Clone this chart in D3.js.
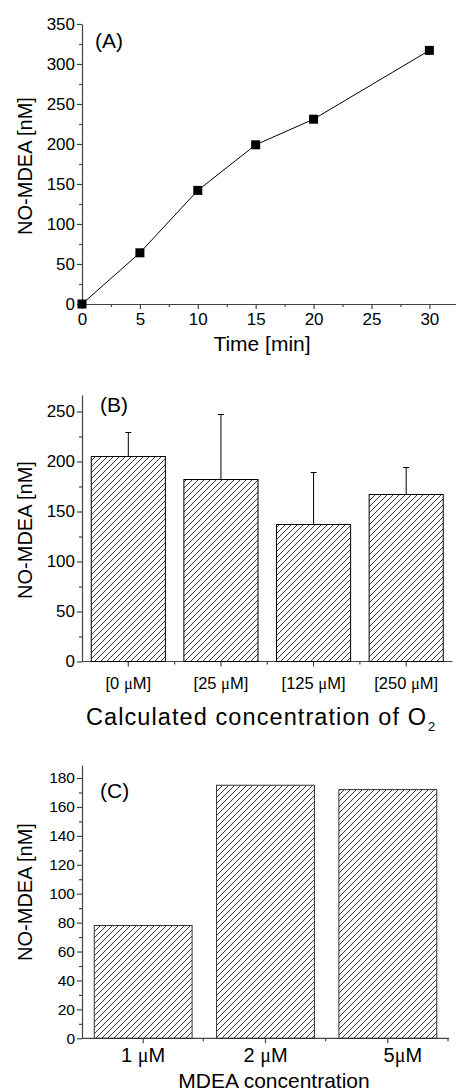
<!DOCTYPE html>
<html>
<head>
<meta charset="utf-8">
<script src="https://cdn.jsdelivr.net/npm/d3@7"></script>
<style>
  body { margin: 0; background: #fff; }
  svg { display: block; font-family: "Liberation Sans", Arial, sans-serif; }
  .axis path, .axis line { stroke: #444; stroke-width: 1.2; }
  .axis text { fill: #000; }
</style>
</head>
<body>
<svg id="chart" width="456" height="1091"></svg>
<script>
// panel A: time course
const timeMin = [0, 5, 10, 15, 20, 30];
const noMdeaA = [0, 64, 142, 199, 231, 317];

// panel B: oxygen
const o2Categories = ["[0 μM]", "[25 μM]", "[125 μM]", "[250 μM]"];
const noMdeaB = [205, 182, 137, 167];
const errB = [24, 65, 52, 27];

// panel C: MDEA concentration
const mdeaCategories = ["1 μM", "2 μM", "5μM"];
const noMdeaC = [78, 175, 172];

const svg = d3.select("#chart");

// hatch pattern "/"
svg.append("defs").append("pattern")
    .attr("id", "hatch")
    .attr("patternUnits", "userSpaceOnUse")
    .attr("width", 6)
    .attr("height", 6)
    .append("path")
    .attr("d", "M0,6 L6,0 M-1,1 L1,-1 M5,7 L7,5")
    .attr("stroke", "#222")
    .attr("stroke-width", 0.9);

const axisX0 = 82;

function yLabel(cy) {
    svg.append("text")
        .attr("transform", `translate(32,${cy}) rotate(-90)`)
        .attr("text-anchor", "middle")
        .style("font-size", "20px")
        .text("NO-MDEA [nM]");
}

// split "μ" into a serif tspan
function muText(sel, label) {
    const parts = label.split("μ");
    sel.text(null);
    sel.append("tspan").text(parts[0]);
    sel.append("tspan").style("font-family", "'Liberation Serif', 'Times New Roman', serif").text("μ");
    sel.append("tspan").text(parts[1]);
}

function drawYAxis(y, major, minor, fontSize) {
    svg.append("g")
        .attr("class", "axis")
        .attr("transform", `translate(${axisX0},0)`)
        .call(d3.axisLeft(y).tickValues(minor).tickSize(3).tickFormat(""))
        .call(g => g.select(".domain").remove());
    svg.append("g")
        .attr("class", "axis")
        .attr("transform", `translate(${axisX0},0)`)
        .call(d3.axisLeft(y).tickValues(major).tickSize(5).tickSizeOuter(0).tickPadding(2))
        .call(g => g.selectAll("text").style("font-size", fontSize));
}

// ---------- Panel A ----------
const xA = d3.scaleLinear().domain([0, 32.3]).range([axisX0, 456]);
const yA = d3.scaleLinear().domain([0, 350]).range([304, 24]);

drawYAxis(yA, d3.range(0, 351, 50), d3.range(25, 351, 50), "17px");

svg.append("g")
    .attr("class", "axis")
    .attr("transform", "translate(0,304)")
    .call(d3.axisBottom(xA).tickValues(d3.range(2.5, 32, 5)).tickSize(3).tickFormat(""))
    .call(g => g.select(".domain").remove());
svg.append("g")
    .attr("class", "axis")
    .attr("transform", "translate(0,304)")
    .call(d3.axisBottom(xA).tickValues(d3.range(0, 31, 5)).tickSize(5).tickSizeOuter(0).tickPadding(4))
    .call(g => g.selectAll("text").style("font-size", "17px"));

const lineA = d3.line().x((d, i) => xA(timeMin[i])).y(d => yA(d));
svg.append("path")
    .datum(noMdeaA)
    .attr("d", lineA)
    .attr("fill", "none")
    .attr("stroke", "#000")
    .attr("stroke-width", 1);

svg.selectAll(".ptA")
    .data(noMdeaA)
    .enter()
    .append("rect")
    .attr("class", "ptA")
    .attr("x", (d, i) => xA(timeMin[i]) - 4.5)
    .attr("y", d => yA(d) - 4.5)
    .attr("width", 9)
    .attr("height", 9)
    .attr("fill", "#000");

svg.append("text").attr("x", 95).attr("y", 48).style("font-size", "21px").text("(A)");
yLabel(166);
svg.append("text").attr("x", 262).attr("y", 351).attr("text-anchor", "middle")
    .style("font-size", "21px").text("Time [min]");

// ---------- Panel B ----------
const xB = d3.scaleBand().domain(o2Categories).range([axisX0, 452.5]).paddingInner(0.2).paddingOuter(0.1);
const yB = d3.scaleLinear().domain([0, 266.5]).range([661.5, 395]);

drawYAxis(yB, d3.range(0, 251, 50), d3.range(25, 266, 50), "17px");

// x axis B: major at centers, minor between
const stepB = xB.step();
const bottomB = svg.append("g").attr("class", "axis");
bottomB.append("line")
    .attr("x1", axisX0).attr("x2", 452.5)
    .attr("y1", yB(0)).attr("y2", yB(0));
bottomB.selectAll(".minor")
    .data(o2Categories.slice(1))
    .enter().append("line")
    .attr("x1", d => xB(d) - stepB * 0.1).attr("x2", d => xB(d) - stepB * 0.1)
    .attr("y1", yB(0)).attr("y2", yB(0) + 3);
bottomB.selectAll(".major")
    .data(o2Categories)
    .enter().append("line")
    .attr("x1", d => xB(d) + xB.bandwidth() / 2).attr("x2", d => xB(d) + xB.bandwidth() / 2)
    .attr("y1", yB(0)).attr("y2", yB(0) + 5);

svg.selectAll(".barB")
    .data(noMdeaB)
    .enter()
    .append("rect")
    .attr("class", "barB")
    .attr("x", (d, i) => xB(o2Categories[i]))
    .attr("y", d => yB(d))
    .attr("width", xB.bandwidth())
    .attr("height", d => yB(0) - yB(d))
    .attr("fill", "url(#hatch)")
    .attr("stroke", "#000")
    .attr("stroke-width", 1);

svg.selectAll(".errB")
    .data(noMdeaB)
    .enter()
    .append("path")
    .attr("class", "errB")
    .attr("d", (d, i) => {
        const cx = xB(o2Categories[i]) + xB.bandwidth() / 2;
        const top = yB(d + errB[i]);
        return `M${cx},${yB(d)} V${top} M${cx - 3},${top} H${cx + 3}`;
    })
    .attr("fill", "none")
    .attr("stroke", "#000")
    .attr("stroke-width", 1);

svg.selectAll(".tickB")
    .data(o2Categories)
    .enter()
    .append("text")
    .attr("class", "tickB")
    .attr("x", d => xB(d) + xB.bandwidth() / 2)
    .attr("y", yB(0) + 27)
    .attr("text-anchor", "middle")
    .style("font-size", "16.5px")
    .each(function (d) { muText(d3.select(this), d); });

svg.append("text").attr("x", 100).attr("y", 412).style("font-size", "21px").text("(B)");
yLabel(530);
const o2Title = svg.append("text").attr("x", 86).attr("y", 725)
    .style("font-size", "23.5px");
o2Title.append("tspan")
    .attr("textLength", 340)
    .attr("lengthAdjust", "spacing")
    .text("Calculated concentration of O");
o2Title.append("tspan").attr("dy", 6).attr("dx", 1).style("font-size", "13px").text("2");

// ---------- Panel C ----------
const xC = d3.scaleBand().domain(mdeaCategories).range([axisX0, 449]).paddingInner(0.2).paddingOuter(0.1);
const yC = d3.scaleLinear().domain([0, 189]).range([1038.3, 765]);

drawYAxis(yC, d3.range(0, 181, 20), d3.range(10, 189, 20), "15.5px");

const stepC = xC.step();
const bottomC = svg.append("g").attr("class", "axis");
bottomC.append("line")
    .attr("x1", axisX0).attr("x2", 449)
    .attr("y1", yC(0)).attr("y2", yC(0));
bottomC.selectAll(".minor")
    .data(mdeaCategories.slice(1).concat(["end"]))
    .enter().append("line")
    .attr("x1", (d, i) => axisX0 + stepC * (i + 1) - 1)
    .attr("x2", (d, i) => axisX0 + stepC * (i + 1) - 1)
    .attr("y1", yC(0)).attr("y2", yC(0) + 3);
bottomC.selectAll(".major")
    .data(mdeaCategories)
    .enter().append("line")
    .attr("x1", d => xC(d) + xC.bandwidth() / 2).attr("x2", d => xC(d) + xC.bandwidth() / 2)
    .attr("y1", yC(0)).attr("y2", yC(0) + 5);

svg.selectAll(".barC")
    .data(noMdeaC)
    .enter()
    .append("rect")
    .attr("class", "barC")
    .attr("x", (d, i) => xC(mdeaCategories[i]))
    .attr("y", d => yC(d))
    .attr("width", xC.bandwidth())
    .attr("height", d => yC(0) - yC(d))
    .attr("fill", "url(#hatch)")
    .attr("stroke", "#333")
    .attr("stroke-width", 1);

svg.selectAll(".tickC")
    .data(mdeaCategories)
    .enter()
    .append("text")
    .attr("class", "tickC")
    .attr("x", (d, i) => xC(d) + xC.bandwidth() / 2 + (i === 2 ? 15 : 0))
    .attr("y", yC(0) + 24)
    .attr("text-anchor", "middle")
    .style("font-size", "20px")
    .each(function (d) { muText(d3.select(this), d); });

svg.append("text").attr("x", 100).attr("y", 798).style("font-size", "21px").text("(C)");
yLabel(892);
svg.append("text").attr("x", 274).attr("y", 1088).attr("text-anchor", "middle")
    .style("font-size", "21px").text("MDEA concentration");
</script>
</body>
</html>
